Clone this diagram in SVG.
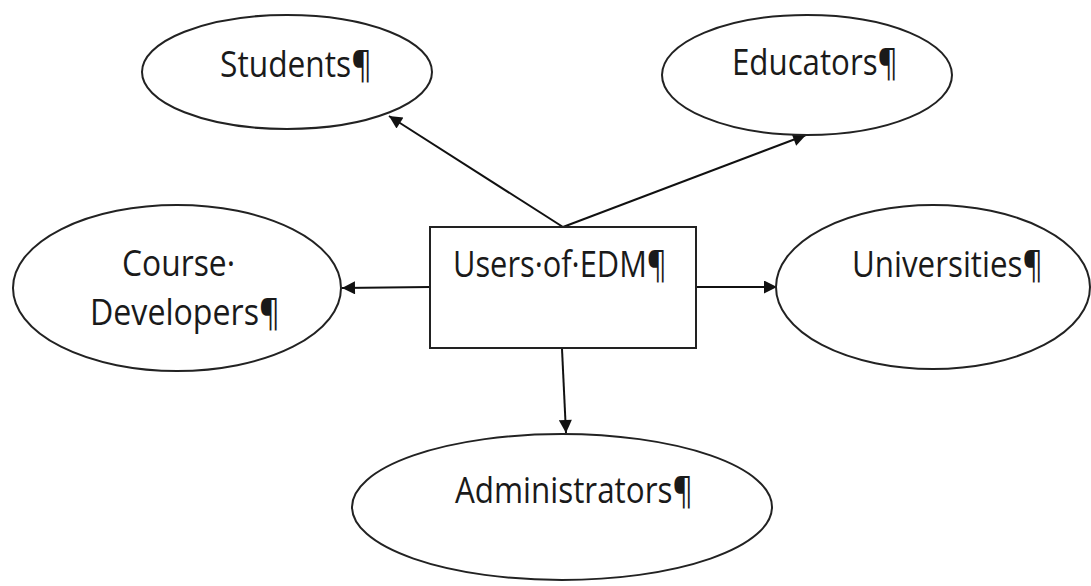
<svg xmlns="http://www.w3.org/2000/svg" width="1091" height="586" viewBox="0 0 1091 586">
<style>
.n{fill:#fff;stroke:#222;stroke-width:2}
.t{font-family:"Open Sans","Liberation Sans",sans-serif;font-size:36px;fill:#1a1a1a}
.c{stroke:#111;stroke-width:2;fill:none;marker-end:url(#ah)}
</style>
<defs>
<marker id="ah" viewBox="0 0 10 10" refX="10" refY="5" markerWidth="15" markerHeight="13" markerUnits="userSpaceOnUse" orient="auto">
<path d="M0,0 L10,5 L0,10 z" fill="#111"/>
</marker>
</defs>
<rect width="1091" height="586" fill="#fff"/>
<g id="connectors">
<line class="c" x1="563" y1="227" x2="389" y2="116"/>
<line class="c" x1="563" y1="227" x2="806" y2="135"/>
<line class="c" x1="430" y1="287" x2="342" y2="288"/>
<line class="c" x1="696" y1="287" x2="777" y2="287"/>
<line class="c" x1="562" y1="349" x2="566" y2="433"/>
</g>
<g id="students">
<ellipse class="n" cx="287" cy="72" rx="145" ry="57"/>
<text class="t" x="220" y="77" textLength="152" lengthAdjust="spacingAndGlyphs">Students¶</text>
</g>
<g id="educators">
<ellipse class="n" cx="807" cy="75" rx="145" ry="60"/>
<text class="t" x="732" y="75" textLength="166" lengthAdjust="spacingAndGlyphs">Educators¶</text>
</g>
<g id="course-developers">
<ellipse class="n" cx="177" cy="288" rx="164" ry="83"/>
<text class="t" x="122" y="276" textLength="113" lengthAdjust="spacingAndGlyphs">Course·</text>
<text class="t" x="90" y="325" textLength="190" lengthAdjust="spacingAndGlyphs">Developers¶</text>
</g>
<g id="users-of-edm">
<rect class="n" x="430" y="227" width="266" height="121"/>
<text class="t" x="453" y="277" textLength="214" lengthAdjust="spacingAndGlyphs">Users·of·EDM¶</text>
</g>
<g id="universities">
<ellipse class="n" cx="933" cy="287" rx="157" ry="82"/>
<text class="t" x="852" y="277" textLength="191" lengthAdjust="spacingAndGlyphs">Universities¶</text>
</g>
<g id="administrators">
<ellipse class="n" cx="562" cy="507" rx="210" ry="73"/>
<text class="t" x="455" y="503" textLength="238" lengthAdjust="spacingAndGlyphs">Administrators¶</text>
</g>
</svg>
